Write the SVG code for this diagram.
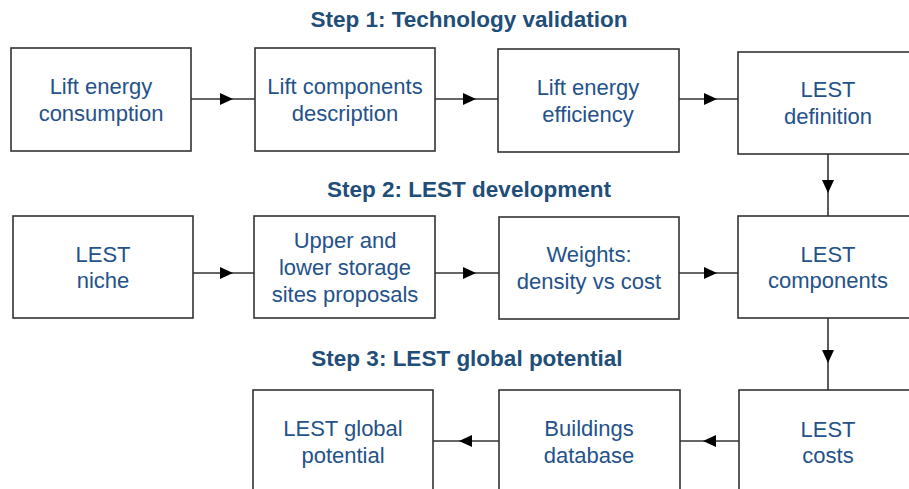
<svg xmlns="http://www.w3.org/2000/svg" width="909" height="489" viewBox="0 0 909 489">
<style>
.box{fill:#fff;stroke:#333;stroke-width:1.6}
.t{font-family:"Liberation Sans",Arial,sans-serif;font-size:22px;fill:#245289;text-anchor:middle}
.h{font-family:"Liberation Sans",Arial,sans-serif;font-size:22.5px;font-weight:bold;fill:#1f4e79;text-anchor:middle}
.c{fill:none;stroke:#333;stroke-width:1.6;marker-mid:url(#a)}
</style>
<defs>
<marker id="a" markerUnits="userSpaceOnUse" markerWidth="14" markerHeight="14" viewBox="0 0 14 14" refX="13" refY="7" orient="auto">
<path d="M0,1 L13,7 L0,13 Z" fill="#000"/>
</marker>
</defs>
<rect width="909" height="489" fill="#fff"/>
<text class="h" x="469" y="27">Step 1: Technology validation</text>
<text class="h" x="469" y="197">Step 2: LEST development</text>
<text class="h" x="467" y="366">Step 3: LEST global potential</text>
<g id="connectors">
<path class="c" d="M191,99 L233,99 L255,99"/>
<path class="c" d="M435,99 L476,99 L498,99"/>
<path class="c" d="M679,99 L717,99 L738,99"/>
<path class="c" d="M828,154 L828,193 L828,216"/>
<path class="c" d="M193,273 L233,273 L254,273"/>
<path class="c" d="M435,273 L476,273 L499,273"/>
<path class="c" d="M679,273 L717,273 L738,273"/>
<path class="c" d="M828,318 L828,363 L828,390"/>
<path class="c" d="M739,441 L703,441 L680,441"/>
<path class="c" d="M499,441 L459,441 L433,441"/>
</g>
<g id="n1"><rect class="box" x="11" y="48" width="180" height="103"/><text class="t" x="101" y="94">Lift energy</text><text class="t" x="101" y="121">consumption</text></g>
<g id="n2"><rect class="box" x="255" y="48" width="180" height="103"/><text class="t" x="345" y="94">Lift components</text><text class="t" x="345" y="121">description</text></g>
<g id="n3"><rect class="box" x="498" y="49" width="181" height="103"/><text class="t" x="588" y="95">Lift energy</text><text class="t" x="588" y="122">efficiency</text></g>
<g id="n4"><rect class="box" x="738" y="52" width="182" height="102"/><text class="t" x="828" y="97">LEST</text><text class="t" x="828" y="124">definition</text></g>
<g id="n5"><rect class="box" x="13" y="216" width="180" height="102"/><text class="t" x="103" y="262">LEST</text><text class="t" x="103" y="288">niche</text></g>
<g id="n6"><rect class="box" x="254" y="216" width="181" height="102"/><text class="t" x="345" y="248">Upper and</text><text class="t" x="345" y="275">lower storage</text><text class="t" x="345" y="302">sites proposals</text></g>
<g id="n7"><rect class="box" x="499" y="217" width="180" height="102"/><text class="t" x="589" y="262">Weights:</text><text class="t" x="589" y="289">density vs cost</text></g>
<g id="n8"><rect class="box" x="738" y="216" width="182" height="102"/><text class="t" x="828" y="262">LEST</text><text class="t" x="828" y="288">components</text></g>
<g id="n9"><rect class="box" x="253" y="390" width="180" height="120"/><text class="t" x="343" y="436">LEST global</text><text class="t" x="343" y="463">potential</text></g>
<g id="n10"><rect class="box" x="499" y="390" width="181" height="120"/><text class="t" x="589" y="436">Buildings</text><text class="t" x="589" y="463">database</text></g>
<g id="n11"><rect class="box" x="739" y="390" width="181" height="120"/><text class="t" x="828" y="437">LEST</text><text class="t" x="828" y="463">costs</text></g>
</svg>
